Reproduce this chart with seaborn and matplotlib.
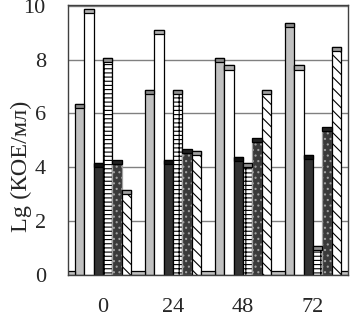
import pandas as pd
import matplotlib
matplotlib.use("Agg")
import matplotlib.pyplot as plt
import matplotlib.patches as mpatches
import seaborn as sns

times = ['0', '24', '48', '72']
series = ['s1', 's2', 's3', 's4', 's5', 's6']
s1 = [6.36, 6.88, 8.07, 9.37]
s2 = [9.87, 9.09, 7.78, 7.78]
s3 = [4.15, 4.26, 4.37, 4.46]
s4 = [8.07, 6.88, 4.15, 1.06]
s5 = [4.26, 4.67, 5.07, 5.49]
s6 = [3.15, 4.58, 6.88, 8.46]
floor_pos = [-0.5, 0.5, 1.5, 2.5, 3.5]
floor_val = [0.12, 0.12, 0.12, 0.12, 0.12]

colors = ['#c0c0c0', '#ffffff', '#333333', '#ffffff', '#3a3a3a', '#ffffff']
cap_colors = ['#8a8a8a', '#b0b0b0', '#111111', '#909090', '#222222', '#a0a0a0']
hatches = [None, None, None, '----||', '...', '\\\\\\']

rows = []
for name, vals in zip(series, [s1, s2, s3, s4, s5, s6]):
    for t, v in zip(times, vals):
        rows.append({'time': t, 'series': name, 'value': v})
df = pd.DataFrame(rows)

sns.set_style("white")
plt.rcParams['font.family'] = ['Liberation Serif', 'DejaVu Serif']
plt.rcParams['hatch.linewidth'] = 0.8

fig = plt.figure(figsize=(3.51, 3.16), dpi=100)
ax = fig.add_axes([68/351, 41.5/316, 280/351, 270/316])

ax.set_axisbelow(True)
ax.yaxis.grid(True, color='#808080', linewidth=1)

sns.barplot(data=df, x='time', y='value', hue='series', order=times,
            hue_order=series, palette=colors, width=0.814, gap=0,
            edgecolor='black', linewidth=0.9, legend=False, ax=ax, zorder=2)

# hatch patterns + the little top caps
for cont, h, cc in zip(ax.containers, hatches, cap_colors):
    for bar in cont:
        if h:
            bar.set_hatch(h)
        if h == '...':
            bar.set_edgecolor('#a0a0a0')
        x0, w, top = bar.get_x(), bar.get_width(), bar.get_height()
        cap = mpatches.Rectangle((x0, top - 0.15), w, 0.15, facecolor=cc,
                                 edgecolor='black', linewidth=0.9, zorder=3)
        ax.add_patch(cap)

ax.bar(floor_pos, floor_val, width=0.186, color='#c0c0c0',
       edgecolor='black', linewidth=0.9, zorder=2)

ax.set_xlim(-0.5, 3.5)
ax.set_ylim(0, 10.05)
ax.set_yticks([0, 2, 4, 6, 8, 10])
ax.set_xticks([-0.5, 0.5, 1.5, 2.5, 3.5], minor=False)
ax.set_xticklabels([])
ax.set_xticks([0, 1, 2, 3], minor=True)
ax.set_xticklabels(times, minor=True)
ax.tick_params(axis='x', which='minor', length=0, pad=17, labelsize=16)
ax.tick_params(axis='x', which='major', length=4, direction='out', color='#404040')
ax.tick_params(axis='y', length=5, direction='out', color='#404040', labelsize=16, pad=11)
ax.set_xlabel('')
ax.set_ylabel('Lg (КОЕ/мл)', fontsize=17.5)
ax.yaxis.set_label_coords(-0.129, 0.399)

for sp in ax.spines.values():
    sp.set_visible(True)
    sp.set_color('#404040')
    sp.set_linewidth(1)

fig.savefig('out.png', dpi=100)
